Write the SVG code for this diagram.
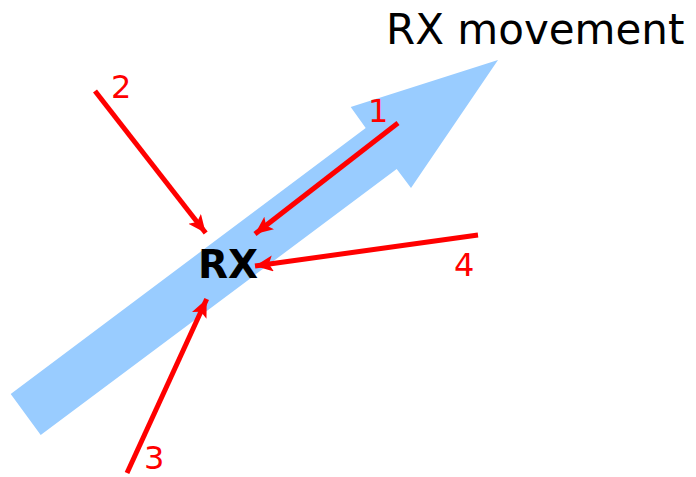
<svg xmlns="http://www.w3.org/2000/svg" width="696" height="477" viewBox="0 0 696 477">
<style>
.conn{stroke:#ff0000;stroke-width:5;fill:none;marker-end:url(#ah)}
.num{font-family:"DejaVu Sans",sans-serif;font-size:32px;fill:#ff0000}
</style>
<defs>
<marker id="ah" markerUnits="userSpaceOnUse" markerWidth="24" markerHeight="20" refX="18" refY="8" orient="auto" viewBox="0 0 24 20">
<path d="M18,8 L0,0 L4,8 L0,16 z" fill="#ff0000"/>
</marker>
</defs>
<rect width="696" height="477" fill="#ffffff"/>
<g id="movement">
<polygon points="10.7,394 365.7,128 350.7,107 498,60 411,188 396.7,169 40.7,435" fill="#99ccff"/>
<text x="386" y="44" font-family="DejaVu Sans,sans-serif" font-size="42" fill="#000">RX movement</text>
</g>
<g id="rx">
<text x="198" y="278" font-family="DejaVu Sans,sans-serif" font-size="39" font-weight="bold" fill="#000">RX</text>
</g>
<g id="connectors">
<line class="conn" x1="398" y1="123" x2="255" y2="234"/>
<line class="conn" x1="95" y1="91" x2="205.7" y2="233"/>
<line class="conn" x1="127" y1="473" x2="206.7" y2="299"/>
<line class="conn" x1="478" y1="235" x2="255" y2="266"/>
</g>
<g id="labels">
<text class="num" x="368" y="122">1</text>
<text class="num" x="111" y="98">2</text>
<text class="num" x="144" y="469">3</text>
<text class="num" x="454" y="276">4</text>
</g>
</svg>
